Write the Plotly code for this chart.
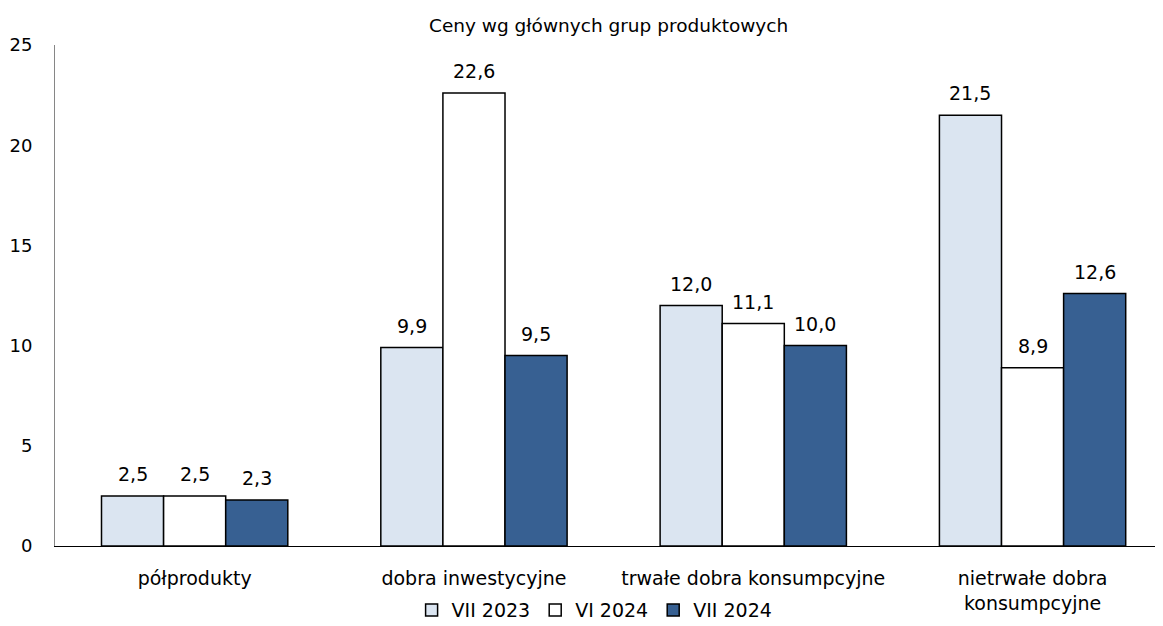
import plotly.graph_objects as go

categories = ["półprodukty", "dobra inwestycyjne", "trwałe dobra konsumpcyjne", "nietrwałe dobra<br>konsumpcyjne"]
series_names = ["VII 2023", "VI 2024", "VII 2024"]
vii_2023 = [2.5, 9.9, 12.0, 21.5]
vi_2024 = [2.5, 22.6, 11.1, 8.9]
vii_2024 = [2.3, 9.5, 10.0, 12.6]
y_ticks = [0, 5, 10, 15, 20, 25]
title_text = "Ceny wg głównych grup produktowych"

colors = ["#DBE5F1", "#FFFFFF", "#376092"]
FONT = "DejaVu Sans"

def fmt(v):
    return f"{v:.1f}".replace(".", ",")

W, H = 1155, 618
ML, MR, MT, MB = 47, 0, 37, 80
x_range = [-0.5, 3.467]
bargap = 0.333
cat_px = (W - ML - MR) / (x_range[1] - x_range[0])
bar_px = cat_px * (1 - bargap) / 3

fig = go.Figure()
all_series = [vii_2023, vi_2024, vii_2024]
for name, vals, col in zip(series_names, all_series, colors):
    fig.add_trace(go.Bar(
        x=categories, y=vals, name=name,
        marker=dict(color=col, line=dict(color="#000000", width=1.5)),
    ))

annotations = []
for i, vals in enumerate(all_series):
    for cat, v in zip(categories, vals):
        annotations.append(dict(
            x=cat, y=v, xref="x", yref="y", text=fmt(v), showarrow=False,
            xanchor="center", yanchor="bottom", xshift=(i - 1) * bar_px, yshift=9,
            font=dict(family=FONT, size=19, color="#000000"),
        ))

fig.update_layout(
    width=W, height=H,
    margin=dict(l=ML, r=MR, t=MT, b=MB, autoexpand=False),
    paper_bgcolor="white", plot_bgcolor="white",
    barmode="group", bargap=bargap, bargroupgap=0,
    font=dict(family=FONT, size=17, color="#000000"),
    title=dict(text=title_text, x=0.520, xanchor="center", y=0.971, yanchor="middle",
               font=dict(family=FONT, size=18.5, color="#000000")),
    showlegend=True,
    legend=dict(orientation="h", x=0.487, xanchor="center", y=-0.128, yanchor="middle",
                font=dict(family=FONT, size=19), itemwidth=30, traceorder="normal",
                itemclick=False, itemdoubleclick=False),
    annotations=annotations,
)
fig.update_xaxes(
    type="category", range=x_range,
    showline=True, linecolor="#000000", linewidth=1,
    ticks="", showgrid=False, tickfont=dict(family=FONT, size=19),
    ticklabelstandoff=15,
)
fig.update_yaxes(
    range=[0, 25], tickvals=y_ticks, ticktext=[str(t) for t in y_ticks],
    showline=True, linecolor="#868686", linewidth=1,
    ticks="", showgrid=False, zeroline=False, ticklabelstandoff=18,
    tickfont=dict(family=FONT, size=18),
)

fig.write_html("out.html")
